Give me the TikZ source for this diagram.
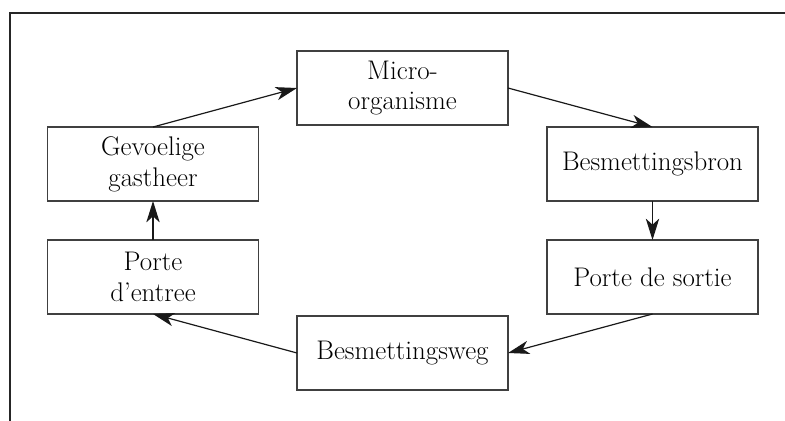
\documentclass[tikz,border=0pt]{standalone}
\usetikzlibrary{arrows.meta}
\definecolor{boxline}{HTML}{404040}
\begin{document}
\begin{tikzpicture}[x=0.75pt,y=-0.75pt,
  stagebox/.style={draw=boxline, line width=1pt, fill=white, minimum width=158.25pt, minimum height=55.5pt, inner sep=0pt, outer sep=0pt, align=center, font=\fontsize{20.2}{23}\selectfont},
  flow/.style={line width=0.9pt, draw=black!90, -{Stealth[length=16pt,width=10pt,inset=4.5pt]}}]
\useasboundingbox (0,0) rectangle (785,421);
\draw[line width=1.5pt, draw=black!85] (10,421) -- (10,13) -- (785,13);
\node[stagebox] (micro) at (402.5,88) {Micro-\\organisme};
\node[stagebox] (bron) at (652.5,164) {Besmettingsbron};
\node[stagebox] (sortie) at (652.5,277) {Porte de sortie};
\node[stagebox] (weg) at (402.5,353) {Besmettingsweg};
\node[stagebox] (entree) at (153,277) {Porte\\d'entree};
\node[stagebox] (gastheer) at (153,164) {Gevoelige\\gastheer};
\draw[flow] (gastheer.north) -- (micro.west);
\draw[flow] (micro.east) -- (bron.north);
\draw[flow] (bron.south) -- (sortie.north);
\draw[flow] (sortie.south) -- (weg.east);
\draw[flow] (weg.west) -- (entree.south);
\draw[flow] (entree.north) -- (gastheer.south);
\end{tikzpicture}
\end{document}
